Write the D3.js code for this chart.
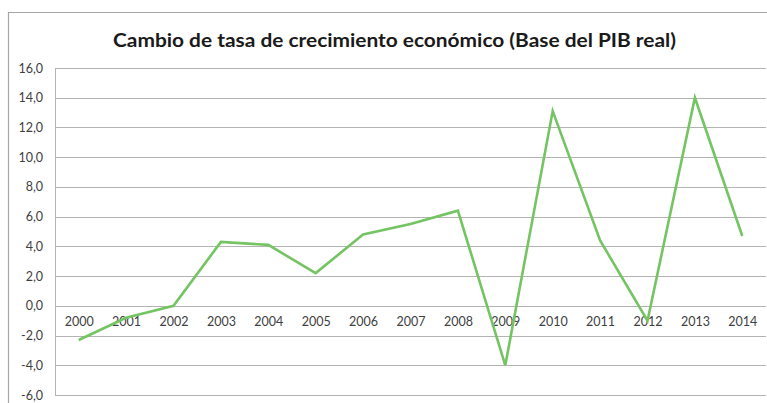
<!DOCTYPE html>
<html>
<head>
<meta charset="utf-8">
<script src="https://cdn.jsdelivr.net/npm/d3@7"></script>
<style>
  html, body { margin: 0; padding: 0; background: #fff; }
  svg { display: block; }
</style>
</head>
<body>
<svg id="chart" width="767" height="403"></svg>
<script>
// Annual change in the real GDP growth rate (%)
const years = ["2000","2001","2002","2003","2004","2005","2006","2007","2008","2009","2010","2011","2012","2013","2014"];
const changeRate = [-2.3, -0.8, 0.0, 4.3, 4.1, 2.2, 4.8, 5.5, 6.4, -4.0, 13.1, 4.4, -1.0, 14.0, 4.7];
const yTicks = [-6, -4, -2, 0, 2, 4, 6, 8, 10, 12, 14, 16];
const titleText = "Cambio de tasa de crecimiento económico (Base del PIB real)";

const svg = d3.select("#chart");
const W = 767, H = 403;
const plot = { left: 55, right: 766, top: 68, bottom: 395 };
const labelFont = "Lato, 'Open Sans', sans-serif";

// outer chart frame (left and top edges are visible)
svg.append("path")
  .attr("d", `M8.5,${H} L8.5,12.5 L${W},12.5`)
  .attr("fill", "none")
  .attr("stroke", "#a6a6a6")
  .attr("stroke-width", 1.2);

svg.append("text")
  .attr("x", 394.5)
  .attr("y", 47)
  .attr("text-anchor", "middle")
  .attr("font-family", labelFont)
  .attr("font-weight", 700)
  .attr("font-size", 18.5)
  .attr("fill", "#1a1a1a")
  .attr("textLength", 563)
  .attr("lengthAdjust", "spacingAndGlyphs")
  .text(titleText);

const x = d3.scalePoint()
  .domain(years)
  .range([plot.left, plot.right])
  .padding(0.5);

const y = d3.scaleLinear()
  .domain([-6, 16])
  .range([plot.bottom, plot.top]);

// horizontal gridlines
svg.append("g")
  .selectAll("line")
  .data(yTicks)
  .join("line")
  .attr("x1", plot.left)
  .attr("x2", plot.right)
  .attr("y1", d => Math.round(y(d)) + 0.5)
  .attr("y2", d => Math.round(y(d)) + 0.5)
  .attr("stroke", "#b3b3b3")
  .attr("stroke-width", 1);

// vertical value axis line
svg.append("line")
  .attr("x1", plot.left + 0.5).attr("x2", plot.left + 0.5)
  .attr("y1", y(16)).attr("y2", y(-6))
  .attr("stroke", "#b3b3b3");

// y axis labels
const fmt = v => d3.format(".1f")(v).replace(".", ",").replace("−", "-");
const yAxis = d3.axisLeft(y)
  .tickValues(yTicks)
  .tickFormat(fmt)
  .tickSize(0)
  .tickPadding(12);

const gy = svg.append("g")
  .attr("transform", `translate(${plot.left},0)`)
  .call(yAxis);
gy.select(".domain").remove();
gy.selectAll("text")
  .attr("font-family", labelFont)
  .attr("font-size", 12.5)
  .attr("fill", "#404040");

// category labels sit on the zero line
const xAxis = d3.axisBottom(x).tickSize(0).tickPadding(11);
const gx = svg.append("g")
  .attr("transform", `translate(0,${y(0)})`)
  .call(xAxis);
gx.select(".domain").remove();
gx.selectAll("text")
  .attr("font-family", labelFont)
  .attr("font-size", 12.5)
  .attr("fill", "#404040");

// series line
const line = d3.line()
  .x((d, i) => x(years[i]))
  .y(d => y(d));

svg.append("path")
  .datum(changeRate)
  .attr("d", line)
  .attr("fill", "none")
  .attr("stroke", "#74c463")
  .attr("stroke-width", 2.6)
  .attr("stroke-linejoin", "miter");
</script>
</body>
</html>
